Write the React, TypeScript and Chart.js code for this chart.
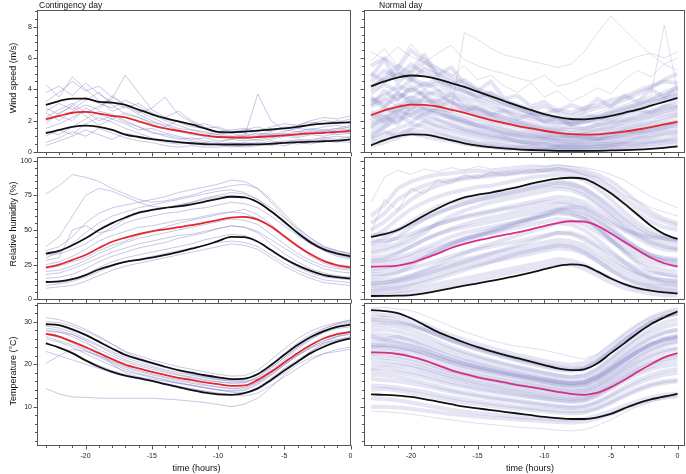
import React, { useEffect, useRef } from 'react';
import { Chart, registerables } from 'chart.js';

Chart.register(...registerables);

// ---------------- data ----------------
const HOURS = [-23, -22, -21, -20, -19, -18, -17, -16, -15, -14, -13, -12, -11, -10, -9, -8, -7, -6, -5, -4, -3, -2, -1, 0];

// Wind speed, contingency day
const WIND_CONT_MEAN = [2.1, 2.3, 2.5, 2.55, 2.45, 2.3, 2.2, 1.95, 1.7, 1.5, 1.35, 1.2, 1.05, 0.95, 0.92, 0.92, 0.95, 1.0, 1.05, 1.12, 1.18, 1.22, 1.28, 1.35];
const WIND_CONT_UPPER = [3.0, 3.25, 3.4, 3.4, 3.2, 3.15, 3.0, 2.7, 2.4, 2.15, 1.95, 1.75, 1.5, 1.28, 1.25, 1.3, 1.36, 1.43, 1.5, 1.6, 1.72, 1.8, 1.85, 1.9];
const WIND_CONT_LOWER = [1.2, 1.4, 1.6, 1.68, 1.6, 1.4, 1.1, 0.95, 0.82, 0.72, 0.62, 0.55, 0.5, 0.48, 0.47, 0.47, 0.48, 0.52, 0.57, 0.62, 0.65, 0.68, 0.72, 0.8];
const WIND_CONT_RUNS = [
  [3.2, 3.8, 4.5, 3.9, 4.2, 3.5, 3.0, 2.6, 2.2, 1.8, 1.5, 1.4, 1.2, 1.1, 1.3, 1.2, 1.0, 1.4, 1.6, 1.5, 1.8, 2.0, 1.9, 2.1],
  [1.5, 1.8, 2.2, 2.6, 2.0, 2.3, 1.9, 1.6, 1.3, 1.0, 0.8, 0.9, 0.7, 0.6, 0.8, 0.9, 0.7, 0.8, 1.0, 0.9, 1.1, 1.0, 1.2, 1.3],
  [2.8, 2.4, 3.0, 3.5, 3.1, 2.8, 3.3, 2.9, 2.4, 2.0, 1.7, 1.4, 1.3, 1.1, 0.9, 1.0, 1.2, 1.1, 1.3, 1.5, 1.4, 1.6, 1.7, 1.5],
  [1.0, 1.4, 1.1, 1.8, 2.2, 1.9, 1.5, 1.2, 0.9, 0.7, 0.6, 0.5, 0.6, 0.4, 0.5, 0.6, 0.5, 0.7, 0.6, 0.8, 0.7, 0.9, 0.8, 1.0],
  [2.2, 2.7, 3.1, 2.5, 2.9, 3.4, 4.9, 3.8, 2.7, 2.2, 2.6, 2.0, 1.6, 1.2, 1.0, 1.1, 0.9, 1.0, 1.2, 1.1, 1.3, 1.2, 1.4, 1.6],
  [2.0, 2.3, 2.0, 2.8, 2.4, 2.1, 2.5, 2.2, 1.8, 1.5, 1.3, 1.1, 1.0, 1.3, 1.2, 1.0, 3.7, 2.0, 1.4, 1.3, 1.5, 1.4, 1.3, 1.2],
  [3.8, 4.2, 3.6, 4.4, 3.7, 3.2, 2.8, 3.1, 2.5, 2.1, 1.9, 1.6, 1.5, 1.3, 1.4, 1.5, 1.3, 1.6, 1.8, 1.7, 2.0, 2.2, 2.1, 2.3],
  [0.6, 0.9, 1.3, 1.0, 1.5, 1.2, 0.9, 0.7, 0.6, 0.4, 0.3, 0.4, 0.3, 0.3, 0.4, 0.3, 0.4, 0.5, 0.4, 0.6, 0.5, 0.7, 0.6, 0.8],
  [2.5, 2.0, 2.6, 3.0, 2.7, 3.6, 3.0, 2.5, 2.8, 3.5, 2.4, 1.9, 1.5, 1.6, 1.3, 1.4, 1.1, 1.2, 1.1, 1.3, 1.2, 1.4, 1.5, 1.4],
  [1.8, 2.5, 2.9, 2.3, 1.7, 2.1, 1.8, 1.4, 1.5, 1.2, 1.0, 0.8, 0.9, 0.7, 0.8, 0.7, 0.8, 0.9, 1.1, 1.0, 1.2, 1.3, 1.1, 1.2],
  [4.3, 3.5, 4.8, 4.0, 3.3, 2.6, 2.9, 2.4, 2.0, 1.6, 2.0, 1.7, 1.8, 1.5, 1.2, 1.4, 1.6, 1.3, 1.5, 1.7, 1.9, 1.8, 2.0, 1.8],
  [1.3, 1.1, 1.6, 2.1, 2.6, 2.4, 2.0, 1.6, 1.2, 1.1, 0.9, 0.7, 0.6, 0.5, 0.6, 0.5, 0.6, 0.5, 0.7, 0.7, 0.8, 0.9, 1.0, 0.9],
  [2.6, 3.1, 2.7, 3.3, 3.8, 3.0, 2.4, 2.2, 1.9, 1.7, 1.4, 1.2, 1.0, 0.9, 1.0, 0.8, 1.0, 1.1, 1.0, 1.2, 1.4, 1.3, 1.5, 1.7],
  [0.4, 0.7, 1.0, 1.4, 1.1, 0.8, 1.2, 1.0, 0.8, 0.6, 0.5, 0.6, 0.4, 0.5, 0.3, 0.4, 0.5, 0.4, 0.6, 0.5, 0.6, 0.8, 0.7, 0.6],
];
const WIND_CONT_OUTLIERS: number[][] = [];

// Wind speed, normal day
const WIND_NORM_MEAN = [2.35, 2.65, 2.88, 3.02, 3.0, 2.9, 2.7, 2.5, 2.25, 2.03, 1.83, 1.65, 1.5, 1.35, 1.22, 1.13, 1.1, 1.12, 1.2, 1.3, 1.43, 1.58, 1.75, 1.92];
const WIND_NORM_UPPER = [4.2, 4.5, 4.75, 4.88, 4.82, 4.65, 4.4, 4.15, 3.85, 3.55, 3.25, 2.95, 2.68, 2.42, 2.22, 2.1, 2.08, 2.15, 2.3, 2.5, 2.7, 2.95, 3.2, 3.45];
const WIND_NORM_LOWER = [0.42, 0.75, 1.0, 1.12, 1.1, 0.95, 0.75, 0.55, 0.4, 0.3, 0.22, 0.16, 0.12, 0.09, 0.07, 0.06, 0.06, 0.07, 0.09, 0.11, 0.14, 0.19, 0.26, 0.35];
const WIND_NORM_RUNS = [
  [4.5, 5.2, 4.8, 5.6, 5.0, 4.6, 4.2, 3.8, 3.6, 3.3, 3.0, 2.8, 2.5, 2.3, 2.2, 2.0, 2.4, 2.2, 2.6, 2.8, 3.1, 3.3, 3.6, 3.9],
  [2.0, 2.6, 3.0, 2.7, 3.4, 3.0, 2.5, 2.2, 2.0, 1.8, 1.5, 1.3, 1.2, 1.0, 1.1, 0.9, 1.0, 0.8, 1.1, 1.3, 1.2, 1.5, 1.7, 2.0],
  [3.2, 3.6, 4.2, 3.9, 4.4, 4.0, 3.5, 3.3, 2.8, 2.5, 2.2, 1.9, 1.7, 1.5, 1.4, 1.6, 1.5, 1.7, 1.9, 2.1, 2.4, 2.6, 2.9, 3.0],
  [0.8, 1.1, 1.5, 1.8, 1.6, 1.3, 1.0, 0.8, 0.6, 0.5, 0.4, 0.3, 0.3, 0.2, 0.3, 0.2, 0.3, 0.3, 0.4, 0.5, 0.6, 0.7, 0.8, 1.0],
  [5.5, 6.0, 5.3, 6.5, 5.8, 5.0, 4.6, 4.0, 3.5, 3.8, 3.2, 2.9, 2.6, 2.4, 2.7, 2.5, 2.8, 3.0, 3.3, 3.5, 3.9, 4.2, 4.5, 4.4],
  [2.6, 2.2, 2.9, 3.5, 3.1, 3.3, 2.8, 2.6, 2.3, 2.0, 1.8, 1.6, 1.4, 1.2, 1.0, 1.1, 0.9, 1.1, 1.2, 1.4, 1.6, 1.8, 2.0, 2.3],
  [1.5, 1.9, 2.3, 2.6, 2.2, 2.0, 1.7, 1.4, 1.2, 1.0, 0.9, 0.7, 0.6, 0.6, 0.5, 0.5, 0.6, 0.7, 0.7, 0.9, 1.0, 1.2, 1.4, 1.5],
  [3.8, 4.3, 3.9, 4.6, 4.1, 4.4, 3.8, 3.5, 3.2, 2.8, 2.6, 2.3, 2.1, 1.9, 1.7, 1.8, 2.0, 1.9, 2.2, 2.5, 2.7, 3.0, 3.4, 3.7],
  [0.4, 0.6, 0.9, 1.2, 1.0, 0.8, 0.7, 0.5, 0.4, 0.3, 0.2, 0.2, 0.1, 0.1, 0.1, 0.1, 0.1, 0.2, 0.2, 0.2, 0.3, 0.3, 0.4, 0.5],
  [2.9, 3.3, 3.7, 3.4, 3.9, 3.6, 3.2, 2.9, 2.6, 2.3, 2.0, 1.7, 1.5, 1.3, 1.2, 1.0, 1.2, 1.4, 1.5, 1.7, 1.9, 2.2, 2.4, 2.6],
  [1.2, 1.6, 2.0, 2.4, 2.8, 2.5, 2.1, 1.8, 1.5, 1.3, 1.1, 1.0, 0.8, 0.8, 0.7, 0.6, 0.7, 0.8, 0.9, 1.0, 1.2, 1.3, 1.5, 1.8],
  [4.0, 4.8, 5.5, 5.0, 5.7, 5.3, 4.9, 4.3, 3.9, 3.5, 3.1, 2.8, 2.5, 2.2, 2.0, 1.8, 1.9, 2.1, 2.4, 2.6, 2.9, 3.2, 3.4, 3.6],
  [2.3, 2.8, 2.5, 3.1, 2.7, 2.4, 2.2, 1.9, 1.7, 1.5, 1.2, 1.1, 1.0, 0.9, 0.8, 0.8, 0.9, 0.9, 1.0, 1.2, 1.4, 1.6, 1.8, 1.9],
  [3.5, 3.0, 3.4, 4.0, 3.6, 3.2, 3.7, 3.0, 2.7, 2.4, 2.2, 2.0, 1.8, 1.6, 1.5, 1.4, 1.5, 1.7, 1.8, 2.0, 2.2, 2.5, 2.7, 2.9],
  [1.8, 2.1, 2.7, 2.3, 2.0, 1.7, 1.5, 1.3, 1.1, 0.9, 0.8, 0.7, 0.5, 0.5, 0.4, 0.4, 0.4, 0.5, 0.5, 0.6, 0.8, 0.9, 1.1, 1.2],
  [5.0, 4.5, 5.0, 4.6, 5.3, 4.8, 4.3, 4.6, 4.0, 3.7, 3.3, 3.0, 2.7, 2.9, 2.5, 2.3, 2.6, 2.8, 3.0, 3.3, 3.7, 4.1, 4.6, 5.0],
  [0.9, 1.3, 1.0, 1.5, 1.9, 1.6, 1.3, 1.1, 0.9, 0.7, 0.6, 0.5, 0.4, 0.3, 0.3, 0.3, 0.3, 0.4, 0.4, 0.5, 0.5, 0.6, 0.7, 0.8],
  [4.8, 5.9, 4.4, 5.2, 6.2, 4.9, 5.4, 4.4, 3.9, 4.5, 3.4, 3.6, 2.9, 3.2, 2.6, 3.0, 2.7, 3.4, 2.9, 3.6, 3.2, 4.0, 3.5, 4.2],
  [1.0, 1.6, 2.3, 1.9, 2.5, 2.1, 1.8, 1.5, 1.3, 1.1, 0.9, 0.7, 0.6, 0.5, 0.4, 0.4, 0.5, 0.5, 0.6, 0.7, 0.9, 1.0, 1.2, 1.3],
  [3.0, 3.9, 3.3, 4.2, 3.6, 3.9, 3.1, 2.8, 2.4, 2.2, 1.9, 1.8, 1.6, 1.4, 1.3, 1.2, 1.3, 1.4, 1.6, 1.9, 2.1, 2.3, 2.6, 2.8],
  [2.4, 1.9, 2.6, 3.2, 2.8, 2.6, 2.2, 2.0, 1.7, 1.4, 1.2, 1.0, 0.9, 0.8, 0.7, 0.7, 0.8, 0.8, 0.9, 1.1, 1.3, 1.4, 1.6, 1.7],
  [4.2, 4.6, 5.2, 4.7, 4.3, 4.6, 4.1, 3.9, 3.4, 3.1, 2.7, 2.5, 2.3, 2.0, 1.9, 1.9, 2.1, 2.3, 2.5, 2.8, 3.0, 3.4, 3.8, 4.1],
  [0.6, 0.8, 1.2, 1.4, 1.3, 1.1, 0.9, 0.7, 0.5, 0.4, 0.3, 0.3, 0.2, 0.2, 0.2, 0.2, 0.2, 0.2, 0.3, 0.3, 0.4, 0.5, 0.6, 0.7],
  [3.4, 2.8, 3.8, 3.1, 3.5, 2.9, 3.3, 2.6, 2.9, 2.4, 2.6, 2.1, 2.4, 1.9, 2.2, 1.7, 1.9, 2.2, 2.0, 2.4, 2.7, 2.5, 2.9, 3.3],
  [1.6, 2.3, 1.8, 2.9, 2.4, 2.8, 2.3, 2.0, 1.7, 1.6, 1.4, 1.2, 1.1, 1.0, 0.9, 1.0, 1.1, 1.1, 1.3, 1.5, 1.7, 1.9, 2.2, 2.4],
];
const WIND_NORM_OUTLIERS = [
  [3.0, 3.4, 2.9, 3.3, 3.0, 2.7, 2.5, 7.6, 7.2, 6.6, 6.2, 6.0, 5.8, 5.6, 5.4, 5.6, 6.4, 7.6, 8.7, 7.8, 7.0, 6.2, 5.6, 5.2],
  [3.6, 4.4, 5.0, 4.7, 5.4, 5.0, 4.6, 4.1, 3.8, 3.4, 3.0, 2.7, 2.4, 2.3, 2.1, 2.0, 2.2, 2.5, 2.8, 3.0, 3.3, 3.6, 8.1, 3.9],
  [5.8, 6.6, 5.5, 6.9, 6.0, 5.4, 4.8, 5.5, 4.6, 4.9, 4.2, 3.8, 4.4, 3.5, 3.9, 3.2, 3.6, 4.1, 3.7, 4.6, 5.2, 4.8, 5.6, 6.0],
  [6.4, 5.9, 6.7, 6.1, 5.7, 6.3, 6.8, 5.9, 5.5, 5.2, 5.0, 4.7, 4.5, 4.9, 4.2, 4.4, 4.8, 5.1, 5.4, 5.8, 6.1, 6.3, 6.0, 6.4],
];

// Relative humidity, contingency day
const RH_CONT_MEAN = [23, 25, 28.5, 32, 37, 41.5, 44.5, 47, 49, 50.5, 52, 53.5, 55.3, 57.2, 59, 59.5, 57.5, 52.5, 45.5, 38.5, 32.5, 27.5, 24.5, 23];
const RH_CONT_UPPER = [33, 35, 39, 44, 50, 55, 59, 62.5, 64.5, 66, 67, 68.5, 70.5, 72.5, 74, 73.5, 70, 63.5, 56, 48, 41, 36, 33, 31];
const RH_CONT_LOWER = [12.5, 13, 14.5, 17.5, 21.5, 24.5, 27, 28.5, 30, 32, 34, 36.5, 39, 42, 45, 44.8, 41.5, 35.5, 29.5, 24.5, 20.5, 17.5, 16, 15];
const RH_CONT_RUNS = [
  [30, 34, 40, 48, 55, 60, 63, 66, 68, 70, 72, 74, 76, 78, 79, 77, 72, 64, 56, 48, 42, 37, 34, 32],
  [15, 16, 18, 22, 27, 31, 34, 37, 39, 41, 44, 46, 48, 51, 53, 52, 48, 40, 33, 27, 22, 19, 17, 16],
  [25, 27, 31, 36, 42, 46, 49, 52, 53, 55, 57, 58, 60, 62, 63, 62, 58, 52, 45, 38, 32, 28, 25, 24],
  [10, 11, 13, 16, 20, 24, 27, 29, 31, 33, 35, 37, 39, 41, 42, 41, 38, 32, 26, 21, 17, 14, 13, 12],
  [76, 82, 90, 88, 85, 80, 76, 72, 70, 71, 73, 75, 78, 80, 82, 83, 80, 72, 62, 52, 44, 38, 35, 33],
  [35, 38, 45, 55, 62, 66, 68, 70, 72, 74, 77, 79, 81, 83, 86, 85, 80, 70, 60, 50, 42, 36, 33, 30],
  [20, 21, 24, 28, 33, 37, 41, 44, 46, 48, 50, 52, 54, 56, 58, 57, 54, 47, 40, 33, 28, 24, 22, 21],
  [12, 12, 14, 18, 23, 27, 30, 32, 34, 36, 38, 40, 43, 45, 47, 46, 42, 36, 29, 23, 19, 16, 15, 14],
  [28, 30, 50, 53, 48, 50, 55, 58, 60, 62, 63, 65, 66, 68, 70, 69, 66, 60, 53, 46, 40, 35, 31, 29],
  [18, 19, 22, 26, 30, 34, 37, 40, 42, 44, 46, 47, 49, 51, 53, 52, 49, 43, 37, 31, 26, 22, 20, 19],
  [38, 45, 60, 75, 80, 78, 74, 70, 67, 66, 68, 70, 72, 74, 75, 74, 70, 63, 55, 47, 40, 35, 32, 30],
  [8, 9, 10, 13, 17, 21, 24, 26, 28, 30, 32, 34, 36, 38, 40, 39, 36, 30, 24, 19, 15, 12, 11, 10],
  [32, 33, 36, 40, 46, 52, 58, 62, 64, 66, 68, 70, 73, 75, 77, 76, 72, 66, 59, 51, 44, 38, 35, 33],
  [22, 24, 27, 30, 35, 39, 42, 46, 49, 52, 55, 57, 59, 61, 63, 65, 61, 54, 46, 38, 31, 26, 23, 22],
];
const RH_CONT_OUTLIERS: number[][] = [];

// Relative humidity, normal day
const RH_NORM_MEAN = [23.5, 23.7, 24.3, 26.2, 29.5, 33, 37, 40, 42.5, 44.5, 46.5, 48.2, 50.5, 52.8, 55, 56.3, 56, 53, 47.5, 41.5, 35.5, 30, 26, 23.5];
const RH_NORM_UPPER = [45, 47, 50, 55, 60.5, 65.5, 70, 73.5, 75.5, 77, 79, 81, 83.5, 85.5, 87, 87.7, 86.8, 82.5, 76.5, 69, 61, 53, 47, 43.5];
const RH_NORM_LOWER = [2.4, 2.5, 2.6, 3, 4.2, 6, 7.9, 9.8, 11.5, 13.3, 15.1, 17, 19.2, 21.7, 24, 25.2, 24.3, 20, 15, 11, 8, 6.2, 5, 4.3];
const RH_NORM_RUNS = [
  [45, 50, 58, 65, 70, 74, 77, 79, 81, 82, 84, 86, 88, 89, 90, 89, 86, 80, 72, 63, 55, 49, 45, 43],
  [25, 26, 28, 31, 35, 38, 41, 44, 46, 48, 50, 52, 54, 56, 58, 57, 54, 48, 42, 36, 31, 27, 25, 24],
  [10, 10, 12, 14, 17, 20, 23, 26, 28, 30, 32, 34, 36, 38, 40, 39, 36, 30, 24, 19, 15, 12, 11, 10],
  [35, 37, 40, 45, 50, 54, 57, 60, 62, 64, 66, 68, 70, 72, 74, 73, 70, 64, 57, 50, 44, 39, 36, 35],
  [18, 18, 20, 22, 25, 28, 31, 34, 36, 38, 40, 42, 44, 46, 48, 48, 45, 39, 33, 27, 22, 19, 18, 17],
  [60, 68, 80, 85, 88, 90, 91, 92, 93, 92, 93, 94, 95, 95, 96, 95, 93, 90, 85, 78, 70, 63, 58, 55],
  [5, 5, 6, 7, 9, 11, 13, 15, 17, 19, 21, 23, 25, 27, 29, 28, 25, 20, 15, 11, 8, 7, 6, 5],
  [30, 31, 34, 38, 43, 47, 50, 52, 54, 56, 58, 60, 62, 64, 66, 65, 62, 56, 49, 42, 36, 32, 30, 29],
  [22, 23, 25, 28, 32, 36, 40, 43, 46, 49, 52, 55, 58, 61, 64, 67, 66, 60, 52, 44, 37, 31, 27, 25],
  [40, 44, 50, 56, 62, 67, 70, 72, 74, 76, 78, 80, 82, 84, 85, 84, 80, 73, 65, 57, 50, 45, 42, 40],
  [14, 14, 15, 17, 20, 23, 26, 29, 31, 33, 35, 37, 39, 41, 43, 42, 39, 33, 27, 22, 18, 15, 14, 13],
  [50, 56, 64, 72, 78, 82, 85, 87, 88, 89, 90, 91, 92, 93, 93, 92, 89, 84, 77, 69, 62, 56, 52, 50],
  [28, 28, 30, 33, 37, 41, 45, 48, 50, 52, 54, 56, 58, 60, 62, 61, 58, 52, 45, 39, 34, 30, 28, 27],
  [8, 8, 9, 11, 14, 17, 20, 23, 25, 27, 29, 31, 33, 35, 37, 36, 33, 27, 21, 16, 12, 10, 9, 8],
  [20, 21, 23, 26, 30, 34, 38, 42, 45, 48, 51, 54, 57, 60, 63, 62, 58, 51, 43, 35, 28, 24, 21, 20],
  [33, 35, 38, 42, 48, 55, 60, 64, 67, 70, 72, 74, 76, 78, 80, 79, 75, 68, 60, 52, 46, 41, 38, 36],
  [12, 12, 13, 15, 18, 21, 24, 27, 30, 33, 36, 39, 42, 45, 48, 47, 43, 37, 30, 24, 19, 16, 14, 13],
  [42, 42, 44, 47, 51, 54, 57, 59, 61, 63, 65, 66, 68, 70, 71, 70, 67, 61, 55, 50, 47, 45, 44, 43],
  [3, 3, 4, 5, 6, 8, 10, 12, 14, 16, 18, 20, 22, 24, 26, 25, 22, 17, 12, 8, 6, 4, 3, 3],
  [16, 17, 19, 24, 30, 35, 40, 44, 47, 50, 53, 56, 59, 62, 65, 64, 60, 52, 43, 34, 26, 21, 18, 16],
  [38, 40, 45, 52, 58, 63, 66, 69, 71, 73, 75, 77, 79, 81, 82, 81, 77, 70, 62, 54, 47, 42, 39, 37],
  [27, 29, 33, 38, 43, 47, 51, 54, 57, 59, 61, 63, 65, 67, 69, 68, 64, 57, 50, 43, 37, 32, 29, 28],
  [6, 7, 8, 10, 12, 15, 18, 21, 24, 27, 30, 33, 35, 37, 39, 38, 34, 28, 21, 15, 11, 9, 7, 6],
  [55, 62, 72, 78, 82, 85, 86, 88, 89, 90, 91, 92, 92, 93, 94, 93, 91, 87, 81, 73, 66, 60, 56, 53],
  [11, 12, 14, 17, 21, 25, 29, 33, 37, 40, 43, 46, 49, 52, 55, 54, 50, 43, 35, 27, 20, 15, 12, 11],
  [46, 47, 50, 54, 58, 62, 66, 69, 72, 74, 76, 78, 80, 82, 84, 83, 80, 74, 67, 59, 52, 47, 44, 42],
];
const RH_NORM_OUTLIERS = [
  [70, 88, 93, 90, 94, 92, 95, 93, 96, 94, 95, 96, 97, 96, 97, 96, 95, 93, 90, 86, 80, 74, 70, 66],
  [48, 72, 64, 80, 76, 86, 83, 90, 87, 92, 89, 91, 94, 92, 95, 93, 90, 88, 82, 75, 71, 66, 63, 60],
];

// Temperature, contingency day
const TEMP_CONT_MEAN = [27.2, 26.5, 25.3, 24, 22.6, 21.2, 19.9, 19.0, 18.2, 17.5, 16.8, 16.3, 15.7, 15.3, 14.9, 15.0, 16.3, 18.2, 20.4, 22.6, 24.5, 26.1, 27.1, 27.6];
const TEMP_CONT_UPPER = [29.4, 29.2, 28.2, 26.9, 25.3, 23.7, 22.2, 21.2, 20.3, 19.4, 18.6, 18.0, 17.4, 16.9, 16.5, 16.6, 17.7, 19.8, 22.2, 24.5, 26.4, 27.8, 28.8, 29.3];
const TEMP_CONT_LOWER = [24.9, 23.9, 22.6, 20.9, 19.4, 18.2, 17.3, 16.7, 16.1, 15.3, 14.6, 13.9, 13.3, 12.9, 12.8, 13.2, 14.3, 16.3, 18.5, 20.6, 22.6, 24.1, 25.3, 26.1];
const TEMP_CONT_RUNS = [
  [29, 28.5, 27.5, 26, 24.5, 23, 21.5, 20.5, 19.5, 18.7, 18, 17.4, 16.8, 16.3, 16, 16.2, 17.5, 19.8, 22.5, 25, 27, 28.5, 29.5, 30],
  [27, 26.3, 25, 23.5, 22, 20.5, 19.2, 18.3, 17.5, 16.8, 16.1, 15.5, 15, 14.6, 14.2, 14.4, 15.8, 18, 20.3, 22.5, 24.5, 26, 27, 27.5],
  [25, 24, 22.5, 21, 19.7, 18.5, 17.5, 16.8, 16.2, 15.5, 14.8, 14.2, 13.6, 13.1, 12.8, 13.1, 14.5, 16.7, 19, 21, 23, 24.6, 25.8, 26.5],
  [30, 29.8, 29, 27.8, 26.3, 24.7, 23, 22, 21, 20.2, 19.4, 18.8, 18.2, 17.6, 17.2, 17.3, 18.6, 21, 23.6, 26, 27.8, 29, 29.8, 30.3],
  [14.3, 13, 12.3, 12.2, 12, 12, 12, 12, 12, 11.8, 11.6, 11.3, 11, 10.5, 10, 10.6, 12, 14.5, 17.5, 20, 21.5, 22.5, 23, 23.5],
  [20.2, 22, 23.5, 23, 22, 20.8, 19.5, 18.5, 17.8, 17, 16.4, 15.8, 15.2, 14.7, 14.3, 14.5, 15.8, 17.8, 20, 22.2, 24, 25.5, 26.5, 27],
  [28, 27.6, 26.5, 25, 23.5, 22, 20.6, 19.6, 18.8, 18.1, 17.4, 16.8, 16.2, 15.8, 15.5, 15.6, 16.8, 19, 21.6, 24, 26, 27.5, 28.4, 28.8],
  [26, 25.2, 24, 22.5, 21, 19.6, 18.4, 17.6, 16.9, 16.2, 15.5, 15, 14.4, 13.9, 13.6, 13.8, 15.2, 17.4, 19.8, 22, 24, 25.5, 26.6, 27.2],
  [31, 30.5, 29.5, 28.2, 26.6, 24.8, 22.8, 21.5, 20.4, 19.4, 18.6, 17.8, 17.2, 16.6, 16.3, 16.5, 17.5, 19.2, 21.5, 24, 26.5, 28.3, 29.5, 30.5],
  [27.8, 27.5, 27, 25.5, 23, 20, 18, 17, 16.5, 16, 15.5, 15, 14.5, 14, 13.4, 13.2, 14, 16, 18, 20.5, 23, 25, 26.5, 27.8],
  [23, 22, 21, 20, 19, 18, 17.2, 16.5, 16, 15.4, 14.8, 14.2, 13.7, 13.2, 12.9, 12.5, 13.2, 15, 17, 19, 21, 22.5, 23.5, 24],
  [28.5, 28, 27, 25.7, 24.2, 22.6, 21, 20, 19.2, 18.4, 17.6, 17, 16.4, 15.9, 15.6, 15.7, 17, 19.5, 22, 24.5, 26.5, 28, 29, 29.2],
  [26.5, 25.5, 24.5, 23.2, 21.7, 20.2, 18.8, 17.8, 17.1, 16.4, 15.7, 15.1, 14.5, 14, 13.8, 14, 15.5, 17.5, 19.8, 22, 23.8, 25, 25.8, 26.2],
  [29.5, 29, 28, 26.7, 25.2, 23.6, 22, 21, 20, 19.2, 18.4, 17.6, 17, 16.4, 16.1, 15.9, 16.5, 18.5, 21, 23.6, 25.8, 27.6, 29, 29.8],
];
const TEMP_CONT_OUTLIERS: number[][] = [];

// Temperature, normal day
const TEMP_NORM_MEAN = [22.8, 22.7, 22.4, 21.8, 20.9, 19.8, 18.6, 17.7, 16.9, 16.3, 15.7, 15.1, 14.6, 14.1, 13.5, 13.0, 12.8, 13.3, 14.6, 16.3, 18.2, 20.0, 21.6, 22.6];
const TEMP_NORM_UPPER = [32.7, 32.5, 32.0, 30.8, 29.2, 27.6, 26.3, 25.1, 24.0, 23.1, 22.2, 21.4, 20.6, 19.8, 19.0, 18.6, 18.8, 20.2, 22.6, 24.9, 27.3, 29.4, 31.0, 32.4];
const TEMP_NORM_LOWER = [12.9, 12.8, 12.6, 12.3, 11.8, 11.2, 10.6, 10.0, 9.6, 9.2, 8.8, 8.4, 8.0, 7.6, 7.3, 7.1, 7.1, 7.5, 8.3, 9.6, 10.8, 11.7, 12.4, 13.0];
const TEMP_NORM_RUNS = [
  [31, 31, 30.5, 29.5, 28.2, 26.8, 25.5, 24.4, 23.4, 22.5, 21.6, 20.8, 20, 19.3, 18.7, 18.4, 18.8, 20.5, 23, 25.5, 27.8, 29.8, 31.2, 32],
  [24, 24, 23.6, 23, 22, 20.9, 19.8, 18.9, 18.1, 17.4, 16.8, 16.2, 15.6, 15.1, 14.6, 14.2, 14.4, 15.8, 17.8, 20, 22, 23.6, 24.8, 25.5],
  [15, 14.8, 14.5, 14, 13.5, 12.8, 12.2, 11.7, 11.2, 10.8, 10.4, 10, 9.7, 9.4, 9.1, 8.9, 9, 9.8, 11.2, 12.8, 14.2, 15.3, 16, 16.3],
  [27, 27, 26.5, 25.8, 24.8, 23.6, 22.4, 21.4, 20.5, 19.7, 19, 18.3, 17.6, 17, 16.4, 16, 16.3, 17.8, 20, 22.4, 24.6, 26.4, 27.6, 28.2],
  [20, 20, 19.7, 19.2, 18.4, 17.5, 16.6, 15.9, 15.2, 14.6, 14, 13.5, 13, 12.5, 12.1, 11.8, 12, 13.2, 15, 17, 18.8, 20.2, 21.2, 21.8],
  [29, 29.2, 28.8, 28, 26.8, 25.4, 24, 22.9, 21.9, 21, 20.2, 19.4, 18.7, 18, 17.4, 17, 17.4, 19, 21.4, 24, 26.4, 28.4, 29.8, 30.6],
  [12, 11.8, 11.5, 11, 10.4, 9.8, 9.3, 8.9, 8.5, 8.2, 7.9, 7.6, 7.4, 7.2, 7, 6.9, 7.1, 7.9, 9, 10.2, 11.3, 12.2, 12.8, 13.1],
  [22.5, 22.4, 22, 21.3, 20.4, 19.4, 18.4, 17.6, 16.9, 16.3, 15.7, 15.1, 14.6, 14.1, 13.6, 13.3, 13.5, 14.8, 16.7, 18.8, 20.7, 22.2, 23.3, 23.9],
  [26, 25.8, 25.3, 24.5, 23.4, 22.2, 21, 20.1, 19.3, 18.6, 17.9, 17.2, 16.5, 15.9, 15.3, 14.9, 15.1, 16.4, 18.4, 20.7, 22.9, 24.7, 26, 26.7],
  [17.5, 17.4, 17, 16.4, 15.6, 14.8, 14, 13.4, 12.8, 12.3, 11.8, 11.4, 11, 10.6, 10.2, 9.9, 10.1, 11.2, 12.8, 14.6, 16.2, 17.5, 18.4, 18.9],
  [30, 29.8, 29.6, 29, 28, 26.8, 25.6, 24.6, 23.6, 22.7, 21.9, 21.1, 20.4, 19.7, 19.1, 18.7, 19.1, 20.8, 23.2, 25.8, 28, 30, 31.2, 31.8],
  [23, 23.2, 22.8, 22, 21, 19.9, 18.8, 18, 17.3, 16.7, 16.1, 15.6, 15.1, 14.6, 14.1, 13.7, 13.9, 15.2, 17.2, 19.4, 21.5, 23.2, 24.4, 25.2],
  [18.5, 18.3, 18, 17.5, 16.8, 16, 15.2, 14.6, 14, 13.5, 13, 12.6, 12.2, 11.8, 11.4, 11.1, 11.3, 12.5, 14.2, 16, 17.6, 18.8, 19.6, 20],
  [25, 25.3, 25, 24.3, 23.3, 22.2, 21.1, 20.2, 19.4, 18.7, 18, 17.4, 16.8, 16.2, 15.7, 15.3, 15.6, 17, 19, 21.2, 23.2, 24.8, 26, 26.7],
  [21, 20.8, 20.4, 19.8, 19, 18, 17.1, 16.3, 15.6, 15, 14.4, 13.9, 13.4, 12.9, 12.5, 12.1, 12.3, 13.6, 15.5, 17.5, 19.3, 20.7, 21.7, 22.2],
  [28, 28.2, 27.7, 26.9, 25.8, 24.6, 23.4, 22.4, 21.5, 20.7, 19.9, 19.2, 18.5, 17.9, 17.3, 16.9, 17.2, 18.7, 21, 23.5, 25.7, 27.5, 28.8, 29.5],
  [10, 10, 9.8, 9.5, 9.1, 8.7, 8.3, 8, 7.7, 7.4, 7.2, 7, 6.8, 6.6, 6.4, 6.3, 6.5, 7.2, 8.3, 9.5, 10.6, 11.5, 12.1, 12.4],
  [24.5, 24.3, 24, 23.4, 22.6, 21.6, 20.6, 19.8, 19.1, 18.4, 17.8, 17.3, 16.8, 16.3, 15.8, 15.5, 15.7, 17, 18.9, 21, 23, 24.6, 25.7, 26.3],
  [32, 31.5, 31.5, 30.5, 29.5, 28, 26.8, 25.8, 24.8, 23.8, 23, 22.2, 21.5, 20.8, 20.2, 19.8, 20.3, 22, 24.5, 27, 29.2, 31, 32.2, 33],
  [19, 19.3, 18.8, 18.2, 17.5, 16.6, 15.8, 15.1, 14.5, 13.9, 13.4, 12.9, 12.4, 12, 11.6, 11.3, 11.5, 12.8, 14.6, 16.5, 18.2, 19.5, 20.5, 21],
  [26.5, 26, 26.4, 25.5, 24.2, 23, 21.8, 20.8, 20, 19.2, 18.5, 17.8, 17.2, 16.6, 16, 15.6, 15.9, 17.3, 19.5, 21.9, 24.2, 26, 27.3, 28],
  [14, 14.2, 13.8, 13.3, 12.7, 12.1, 11.5, 11, 10.6, 10.2, 9.8, 9.5, 9.2, 8.9, 8.6, 8.4, 8.6, 9.5, 10.9, 12.4, 13.8, 14.9, 15.6, 16],
  [22, 21.6, 21.3, 20.6, 19.7, 18.7, 17.8, 17, 16.3, 15.7, 15.1, 14.6, 14.1, 13.6, 13.2, 12.8, 13, 14.3, 16.2, 18.3, 20.2, 21.7, 22.8, 23.5],
  [24, 24.5, 24.2, 23.5, 22.5, 21.4, 20.4, 19.5, 18.8, 18.1, 17.5, 16.9, 16.3, 15.8, 15.3, 14.9, 15.2, 16.6, 18.7, 20.9, 22.9, 24.5, 25.6, 26.2],
  [30.5, 30.3, 29.9, 29.2, 28.2, 27, 25.8, 24.8, 23.9, 23, 22.2, 21.4, 20.7, 20, 19.4, 19, 19.3, 20.9, 23.2, 25.7, 28, 29.9, 31.3, 32],
  [16.5, 16.3, 16, 15.5, 14.9, 14.2, 13.5, 12.9, 12.4, 11.9, 11.5, 11.1, 10.7, 10.3, 9.9, 9.7, 9.9, 10.9, 12.4, 14, 15.5, 16.7, 17.5, 18],
];
const TEMP_NORM_OUTLIERS = [
  [9, 8.8, 8.6, 8.2, 7.8, 7.3, 6.9, 6.5, 6.1, 5.8, 5.5, 5.2, 5, 4.8, 4.5, 4.3, 4.6, 5.6, 7, 8.6, 10, 11.2, 12, 12.5],
  [33.2, 33.4, 33, 32.6, 31.5, 30.2, 28.9, 27.6, 26.6, 25.6, 24.8, 24.2, 23.8, 23.3, 22.6, 21.8, 21.2, 22.4, 24.6, 27, 29.3, 31, 32.2, 32.8],
];

// ---------------- presentation ----------------
const FONT = '"Liberation Sans", Arial, Helvetica, sans-serif';
const W = 686;
const H = 474;
const FRAME = '#555555';
const RED = '#e3262c';
const MAGENTA = '#d62f86';

type Area = { left: number; top: number; right: number; bottom: number };
type Spec = {
  id: string;
  area: Area;
  xMin: number; xMax: number;
  yMin: number; yMax: number; yStep: number; yMajor: number;
  showXLabels: boolean; showYLabels: boolean;
  mean: number[]; upper: number[]; lower: number[]; runs: number[][]; outliers: number[][];
  meanColor: string; runColor: string; runWidth: number;
  title?: string; titleX?: number;
  yTitle?: string; yTitleY?: number;
  xTitle?: string; xTitleX?: number;
};

const LEFT = { left: 37.5, right: 350.5, xMin: -23.63, xMax: 0 };
const RIGHT = { left: 364.5, right: 684.5, xMin: -23.49, xMax: 0.52 };
const ROW1 = { top: 10.5, bottom: 152.5 };
const ROW2 = { top: 157.5, bottom: 299.5 };
const ROW3 = { top: 303.5, bottom: 445.5 };

const CONT_RUN = 'rgba(120,120,190,0.45)';
const NORM_RUN = 'rgba(115,115,190,0.19)';
const OUTLIER = 'rgba(150,150,185,0.38)';

const SPECS: Spec[] = [
  {
    id: 'wc', area: { left: LEFT.left, right: LEFT.right, ...ROW1 }, xMin: LEFT.xMin, xMax: LEFT.xMax,
    yMin: -0.04, yMax: 9.035, yStep: 0.5, yMajor: 2, showXLabels: false, showYLabels: true,
    mean: WIND_CONT_MEAN, upper: WIND_CONT_UPPER, lower: WIND_CONT_LOWER, runs: WIND_CONT_RUNS, outliers: WIND_CONT_OUTLIERS,
    meanColor: RED, runColor: CONT_RUN, runWidth: 0.9,
    title: 'Contingency day', titleX: 39, yTitle: 'Wind speed (m/s)', yTitleY: 78,
  },
  {
    id: 'wn', area: { left: RIGHT.left, right: RIGHT.right, ...ROW1 }, xMin: RIGHT.xMin, xMax: RIGHT.xMax,
    yMin: -0.04, yMax: 9.035, yStep: 0.5, yMajor: 2, showXLabels: false, showYLabels: false,
    mean: WIND_NORM_MEAN, upper: WIND_NORM_UPPER, lower: WIND_NORM_LOWER, runs: WIND_NORM_RUNS, outliers: WIND_NORM_OUTLIERS,
    meanColor: RED, runColor: NORM_RUN, runWidth: 4,
    title: 'Normal day', titleX: 379,
  },
  {
    id: 'rc', area: { left: LEFT.left, right: LEFT.right, ...ROW2 }, xMin: LEFT.xMin, xMax: LEFT.xMax,
    yMin: -0.14, yMax: 102.3, yStep: 5, yMajor: 25, showXLabels: false, showYLabels: true,
    mean: RH_CONT_MEAN, upper: RH_CONT_UPPER, lower: RH_CONT_LOWER, runs: RH_CONT_RUNS, outliers: RH_CONT_OUTLIERS,
    meanColor: RED, runColor: CONT_RUN, runWidth: 0.9,
    yTitle: 'Relative humidity (%)', yTitleY: 224,
  },
  {
    id: 'rn', area: { left: RIGHT.left, right: RIGHT.right, ...ROW2 }, xMin: RIGHT.xMin, xMax: RIGHT.xMax,
    yMin: -0.14, yMax: 102.3, yStep: 5, yMajor: 25, showXLabels: false, showYLabels: false,
    mean: RH_NORM_MEAN, upper: RH_NORM_UPPER, lower: RH_NORM_LOWER, runs: RH_NORM_RUNS, outliers: RH_NORM_OUTLIERS,
    meanColor: MAGENTA, runColor: NORM_RUN, runWidth: 4,
  },
  {
    id: 'tc', area: { left: LEFT.left, right: LEFT.right, ...ROW3 }, xMin: LEFT.xMin, xMax: LEFT.xMax,
    yMin: 0.87, yMax: 34.28, yStep: 2, yMajor: 10, showXLabels: true, showYLabels: true,
    mean: TEMP_CONT_MEAN, upper: TEMP_CONT_UPPER, lower: TEMP_CONT_LOWER, runs: TEMP_CONT_RUNS, outliers: TEMP_CONT_OUTLIERS,
    meanColor: RED, runColor: CONT_RUN, runWidth: 0.9,
    yTitle: 'Temperature (°C)', yTitleY: 371, xTitle: 'time (hours)', xTitleX: 196.5,
  },
  {
    id: 'tn', area: { left: RIGHT.left, right: RIGHT.right, ...ROW3 }, xMin: RIGHT.xMin, xMax: RIGHT.xMax,
    yMin: 0.87, yMax: 34.28, yStep: 2, yMajor: 10, showXLabels: true, showYLabels: false,
    mean: TEMP_NORM_MEAN, upper: TEMP_NORM_UPPER, lower: TEMP_NORM_LOWER, runs: TEMP_NORM_RUNS, outliers: TEMP_NORM_OUTLIERS,
    meanColor: MAGENTA, runColor: NORM_RUN, runWidth: 4,
    xTitle: 'time (hours)', xTitleX: 530,
  },
];

const Y_AXIS_W = 20;
const X_AXIS_H = 20;

function isMultiple(v: number, m: number) {
  const r = v / m;
  return Math.abs(r - Math.round(r)) < 1e-6;
}

function toPoints(values: number[]) {
  return HOURS.map((h, i) => ({ x: h, y: values[i] }));
}

function decorPlugin(spec: Spec) {
  return {
    id: 'decor_' + spec.id,
    afterDraw(chart: any) {
      const { ctx, chartArea: a } = chart;
      const xs = chart.scales.x;
      const ys = chart.scales.y;
      ctx.save();
      ctx.strokeStyle = FRAME;
      ctx.lineWidth = 1;
      ctx.strokeRect(a.left, a.top, a.right - a.left, a.bottom - a.top);
      ctx.beginPath();
      xs.ticks.forEach((t: any) => {
        const px = Math.round(xs.getPixelForValue(t.value)) + 0.5;
        const len = isMultiple(t.value, 5) ? 4 : 2.5;
        ctx.moveTo(px, a.bottom);
        ctx.lineTo(px, a.bottom + len);
      });
      ys.ticks.forEach((t: any) => {
        const py = Math.round(ys.getPixelForValue(t.value)) + 0.5;
        const len = isMultiple(t.value, spec.yMajor) ? 4 : 2.5;
        ctx.moveTo(a.left, py);
        ctx.lineTo(a.left - len, py);
      });
      ctx.stroke();

      ctx.fillStyle = '#111';
      if (spec.title) {
        ctx.font = `8.5px ${FONT}`;
        ctx.textAlign = 'left';
        ctx.textBaseline = 'middle';
        ctx.fillText(spec.title, spec.titleX, 5.5);
      }
      if (spec.yTitle) {
        ctx.save();
        ctx.font = `9px ${FONT}`;
        ctx.translate(13.5, spec.yTitleY);
        ctx.rotate(-Math.PI / 2);
        ctx.textAlign = 'center';
        ctx.textBaseline = 'middle';
        ctx.fillText(spec.yTitle, 0, 0);
        ctx.restore();
      }
      if (spec.xTitle) {
        ctx.font = `9px ${FONT}`;
        ctx.textAlign = 'center';
        ctx.textBaseline = 'middle';
        ctx.fillText(spec.xTitle, spec.xTitleX, 469);
      }
      ctx.restore();
    },
  };
}

function Panel({ spec }: { spec: Spec }) {
  const ref = useRef<HTMLCanvasElement | null>(null);

  useEffect(() => {
    if (!ref.current) return;
    const a = spec.area;
    const datasets: any[] = [];
    datasets.push({
      data: toPoints(spec.mean), borderColor: spec.meanColor, borderWidth: 1.8,
      cubicInterpolationMode: 'monotone', pointRadius: 0,
    });
    datasets.push({
      data: toPoints(spec.upper), borderColor: '#111', borderWidth: 1.8,
      cubicInterpolationMode: 'monotone', pointRadius: 0,
    });
    datasets.push({
      data: toPoints(spec.lower), borderColor: '#111', borderWidth: 1.8,
      cubicInterpolationMode: 'monotone', pointRadius: 0,
    });
    spec.runs.forEach((r) => {
      datasets.push({
        data: toPoints(r), borderColor: spec.runColor, borderWidth: spec.runWidth,
        tension: 0, pointRadius: 0, borderJoinStyle: 'round',
      });
    });
    spec.outliers.forEach((r) => {
      datasets.push({
        data: toPoints(r), borderColor: OUTLIER, borderWidth: 0.8,
        tension: 0, pointRadius: 0,
      });
    });

    const chart = new Chart(ref.current, {
      type: 'line',
      data: { datasets },
      options: {
        responsive: false,
        animation: false,
        events: [],
        layout: {
          padding: {
            left: a.left - Y_AXIS_W,
            right: W - a.right,
            top: a.top,
            bottom: H - a.bottom - X_AXIS_H,
          },
        },
        plugins: { legend: { display: false }, tooltip: { enabled: false }, title: { display: false } },
        scales: {
          x: {
            type: 'linear',
            min: spec.xMin,
            max: spec.xMax,
            afterFit: (s: any) => { s.height = X_AXIS_H; },
            grid: { display: false, drawTicks: true, tickLength: 4 },
            border: { display: false },
            ticks: {
              stepSize: 1,
              includeBounds: false,
              autoSkip: false,
              maxRotation: 0,
              padding: 2.5,
              color: '#222',
              font: { size: 7, family: FONT },
              callback: (v: any) => (spec.showXLabels && isMultiple(Number(v), 5) ? String(Math.round(Number(v))) : ''),
            },
          },
          y: {
            type: 'linear',
            min: spec.yMin,
            max: spec.yMax,
            afterFit: (s: any) => { s.width = Y_AXIS_W; },
            grid: { display: false, drawTicks: true, tickLength: 4 },
            border: { display: false },
            ticks: {
              stepSize: spec.yStep,
              includeBounds: false,
              autoSkip: false,
              padding: 1.5,
              color: '#222',
              font: { size: 7, family: FONT },
              callback: (v: any) => (spec.showYLabels && isMultiple(Number(v), spec.yMajor) ? String(Math.round(Number(v))) : ''),
            },
          },
        },
      },
      plugins: [decorPlugin(spec)],
    } as any);

    return () => chart.destroy();
  }, [spec]);

  return (
    <canvas
      ref={ref}
      width={W}
      height={H}
      style={{ position: 'absolute', left: 0, top: 0, width: W, height: H }}
    />
  );
}

export default function App() {
  return (
    <div style={{ position: 'fixed', left: 0, top: 0, width: W, height: H, background: '#fff', overflow: 'hidden' }}>
      {SPECS.map((s) => (
        <Panel key={s.id} spec={s} />
      ))}
    </div>
  );
}
